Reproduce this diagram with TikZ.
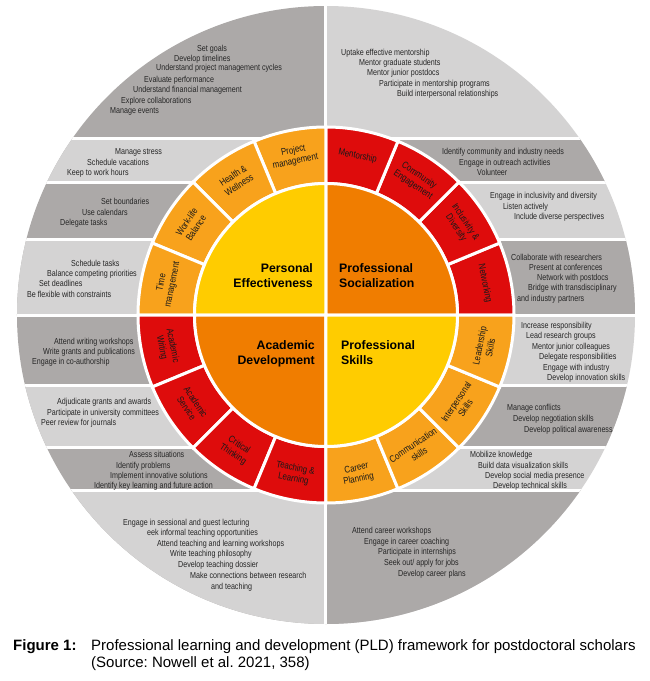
\documentclass[tikz,border=0pt]{standalone}
\usepackage{fontspec}
\setmainfont{Liberation Sans}
\newfontfamily\narrowfont{Liberation Sans}[FakeStretch=0.82]
\frenchspacing

\definecolor{bandDark}{RGB}{172,169,168}
\definecolor{bandLight}{RGB}{212,211,211}
\definecolor{coreYellow}{RGB}{255,204,0}
\definecolor{coreOrange}{RGB}{240,125,0}
\definecolor{ringOrange}{RGB}{248,162,28}
\definecolor{ringRed}{RGB}{222,12,12}

\tikzset{
  item/.style={anchor=base west, inner sep=0pt, text=black!85,
    font=\narrowfont\fontsize{8.7}{10.4}\selectfont},
  ringlabel/.style={align=center, inner sep=0pt, text=black!90,
    font=\narrowfont\fontsize{9.6}{11}\selectfont},
  corelabel/.style={inner sep=0pt, font=\bfseries\fontsize{12.3}{15}\selectfont},
  gap/.style={draw=white, line width=3pt},
}

\begin{document}
\begin{tikzpicture}[x=1pt,y=1pt]
    \useasboundingbox (-326,-366) rectangle (324,315);
    % outer bands
    \begin{scope}
        \clip (0,0) circle (309);
        \fill[bandDark] (-310,-310) rectangle (0,310);
        \fill[bandLight] (0,-310) rectangle (310,310);
        \foreach \ya/\yb in {177/133, 76/0, -70/-132, -175/-310} {
            \fill[bandLight] (-310,\yb) rectangle (0,\ya);
            \fill[bandDark] (0,\yb) rectangle (310,\ya);
        }
        \foreach \y in {177,133,76,0,-70,-132,-175}
            \draw[gap] (-310,\y) -- (310,\y);
        \draw[gap] (0,-310) -- (0,310);
    \end{scope}
    % middle ring
    \foreach \q/\col in {0/ringRed, 90/ringOrange, 180/ringRed, 270/ringOrange}
        \foreach \s in {0,22.5,45,67.5} {
            \pgfmathsetmacro{\a}{\q+\s}
            \pgfmathsetmacro{\b}{\q+\s+22.5}
            \filldraw[gap, fill=\col] (\a:131.5) arc[start angle=\a, end angle=\b, radius=131.5]
                -- (\b:188) arc[start angle=\b, end angle=\a, radius=188] -- cycle;
        }
    % core
    \foreach \q/\col in {0/coreOrange, 90/coreYellow, 180/coreOrange, 270/coreYellow}
        \filldraw[gap, fill=\col] (0,0) -- (\q:131.5) arc[start angle=\q, end angle=\q+90, radius=131.5] -- cycle;

    \node[corelabel, anchor=base east] (pe1) at (-13,43) {Personal};
    \node[corelabel, anchor=base east] (pe2) at (-13,28) {Effectiveness};
    \node[corelabel, anchor=base west] (ps1) at (13,43) {Professional};
    \node[corelabel, anchor=base west] (ps2) at (13,28) {Socialization};
    \node[corelabel, anchor=base east] (ad1) at (-11,-34) {Academic};
    \node[corelabel, anchor=base east] (ad2) at (-11,-49) {Development};
    \node[corelabel, anchor=base west] (sk1) at (15,-34) {Professional};
    \node[corelabel, anchor=base west] (sk2) at (15,-49) {Skills};

    % ring labels
    \foreach \ang/\rot/\txt [count=\k] in {
        101.25/11.25/Project\\management, 123.75/33.75/Health \&\\Wellness,
        146.25/56.25/Work-life\\Balance, 168.75/78.75/Time\\management,
        78.75/-11.25/Mentorship, 56.25/-33.75/Community\\Engagement,
        33.75/-56.25/Inclusivity \&\\Diversity, 11.25/-78.75/Networking,
        191.25/-78.75/Academic\\Writing, 213.75/-56.25/Academic\\Service,
        236.25/-33.75/Critical\\Thinking, 258.75/-11.25/Teaching \&\\Learning,
        281.25/11.25/Career\\Planning, 303.75/33.75/Communication\\skills,
        326.25/56.25/Interpersonal\\Skills, 348.75/78.75/Leadership\\Skills}
        \node[ringlabel, rotate=\rot] (ring-\k) at (\ang:162) {\txt};

    % left items
    \foreach \x/\y/\txt [count=\i] in {
        -129/264/Set goals, -152/254/Develop timelines,
        -170/244/Understand project management cycles, -182/233/Evaluate performance,
        -193/223/Understand financial management, -205/212/Explore collaborations,
        -216/202/Manage events,
        -211/161/Manage stress, -239/150/Schedule vacations, -259/140/Keep to work hours,
        -225/111/Set boundaries, -244/100/Use calendars, -266/90/Delegate tasks,
        -255/49/Schedule tasks, -279/39/Balance competing priorities,
        -287/29/Set deadlines, -299/18/Be flexible with constraints,
        -272/-29/Attend writing workshops, -283/-39/Write grants and publications,
        -294/-49/Engage in co-authorship,
        -269/-89/Adjudicate grants and awards, -279/-100/Participate in university committees,
        -285/-110/Peer review for journals,
        -197/-142/Assess situations, -210/-153/Identify problems,
        -216/-163/Implement innovative solutions, -232/-173/Identify key learning and future action,
        -203/-210/Engage in sessional and guest lecturing, -179/-220/eek informal teaching opportunities,
        -169/-231/Attend teaching and learning workshops, -156/-241/Write teaching philosophy,
        -148/-252/Develop teaching dossier, -136/-263/Make connections between research,
        -115/-274/and teaching}
        \node[item] (left-\i) at (\x,\y) {\txt};

    % right items
    \foreach \x/\y/\txt [count=\i] in {
        15/260/Uptake effective mentorship, 33/250/Mentor graduate students,
        41/240/Mentor junior postdocs, 53/229/Participate in mentorship programs,
        71/219/Build interpersonal relationships,
        116/161/Identify community and industry needs, 133/150/Engage in outreach activities,
        151/140/Volunteer,
        164/117/Engage in inclusivity and diversity, 177/106/Listen actively,
        188/96/Include diverse perspectives,
        185/55/Collaborate with researchers, 203/45/Present at conferences,
        211/35/Network with postdocs, 202/25/Bridge with transdisciplinary,
        191/14/and industry partners,
        195/-13/Increase responsibility, 200/-23/Lead research groups,
        206/-34/Mentor junior colleagues, 213/-44/Delegate responsibilities,
        217/-55/Engage with industry, 221/-65/Develop innovation skills,
        181/-95/Manage conflicts, 187/-106/Develop negotiation skills,
        198/-117/Develop political awareness,
        144/-142/Mobilize knowledge, 152/-153/Build data visualization skills,
        159/-163/Develop social media presence, 167/-173/Develop technical skills,
        26/-218/Attend career workshops, 38/-229/Engage in career coaching,
        52/-239/Participate in internships, 58/-250/{Seek out/ apply for jobs},
        72/-261/Develop career plans}
        \node[item] (right-\i) at (\x,\y) {\txt};

    % caption
    \node[anchor=base west, inner sep=0pt, font=\bfseries\fontsize{15}{17}\selectfont] (fig) at (-313,-335) {Figure 1:};
    \node[anchor=base west, inner sep=0pt, font=\fontsize{15}{17}\selectfont] (cap1) at (-235,-335)
        {Professional learning and development (PLD) framework for postdoctoral scholars};
    \node[anchor=base west, inner sep=0pt, font=\fontsize{15}{17}\selectfont] (cap2) at (-235,-352)
        {(Source: Nowell et al. 2021, 358)};
\end{tikzpicture}
\end{document}
